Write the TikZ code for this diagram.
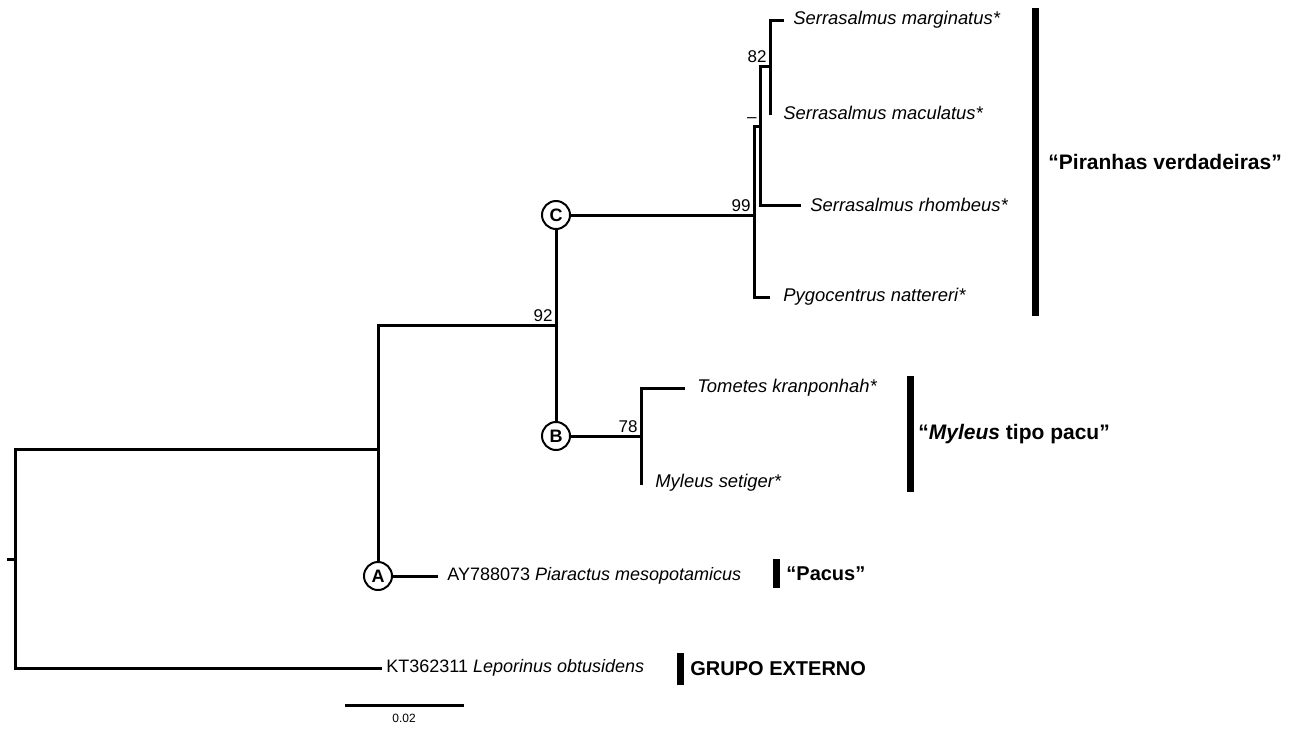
\documentclass[tikz,border=0pt]{standalone}
\usepackage{fontspec}
\setmainfont{Liberation Sans}
\usetikzlibrary{positioning}

\begin{document}
\begin{tikzpicture}[x=0.5pt, y=-0.5pt]

\tikzset{branch/.style = {line width=1.5pt, line cap=rect}}
\tikzset{cladenode/.style = {shape=circle, draw, line width=1pt, fill=white, minimum size=14pt, inner sep=0pt, font=\fontsize{9}{9}\selectfont\bfseries}}
\tikzset{taxon/.style = {inner sep=0pt, anchor=west, font=\fontsize{9.2}{11}\selectfont\itshape}}
\tikzset{support/.style = {inner sep=1.5pt, font=\fontsize{8.5}{9}\selectfont}}
\tikzset{cladebar/.style = {line width=3.5pt}}
\tikzset{cladename/.style = {inner sep=0pt, anchor=west, font=\fontsize{10.5}{12}\selectfont\bfseries}}

\useasboundingbox (0,0) rectangle (1289,728);

%internal nodes
\coordinate (stub) at (8,559);
\coordinate (root) at (15,559);
\coordinate (nIn) at (378,449);
\coordinate (n92) at (556,325);
\coordinate (n99) at (754,215);
\coordinate (nDash) at (760,126);
\coordinate (n82) at (770,66);
\coordinate (n78) at (641,436);
\node[cladenode] (A) at (378,576) {A};
\node[cladenode] (B) at (556,436) {B};
\node[cladenode] (C) at (556,215) {C};

%tips
\coordinate (tipMar) at (782,20);
\coordinate (tipMac) at (770,113);
\coordinate (tipRho) at (799,205);
\coordinate (tipPyg) at (768,297);
\coordinate (tipTom) at (683,388);
\coordinate (tipMyl) at (641,483);
\coordinate (tipPia) at (436,576);
\coordinate (tipLep) at (380,668);

%branches
\draw[branch] (stub) -- (root);
\draw[branch] (nIn) -| (root) |- (tipLep);
\draw[branch] (n92) -| (A);
\draw[branch] (A) -- (tipPia);
\draw[branch] (C) -- (B);
\draw[branch] (C) -- (n99);
\draw[branch] (nDash) -| (n99) |- (tipPyg);
\draw[branch] (n82) -| (nDash) |- (tipRho);
\draw[branch] (tipMar) -| (n82) -- (tipMac);
\draw[branch] (B) -- (n78);
\draw[branch] (tipTom) -| (n78) -- (tipMyl);

%support values
\node[support, anchor=south east] at (n92) {92};
\node[support, anchor=south east] at (n99) {99};
\node[support, anchor=south east] at (n82) {82};
\node[support, anchor=south east] at (nDash) {--};
\node[support, anchor=south east] at (n78) {78};

%taxa
\node[taxon, right=5.5pt of tipMar] (mar) {Serrasalmus marginatus*};
\node[taxon, right=6.5pt of tipMac] (mac) {Serrasalmus maculatus*};
\node[taxon, right=5.5pt of tipRho] (rho) {Serrasalmus rhombeus*};
\node[taxon, right=7.5pt of tipPyg] (pyg) {Pygocentrus nattereri*};
\node[taxon, right=7pt of tipTom] (tom) {Tometes kranponhah*};
\node[taxon, right=7pt of tipMyl] (myl) {Myleus setiger*};
\node[taxon, right=5.5pt of tipPia, font=\fontsize{9}{11}\selectfont] (pia) {AY788073 \textit{Piaractus mesopotamicus}};
\node[taxon, right=3pt of tipLep, font=\fontsize{9}{11}\selectfont] (lep) {KT362311 \textit{Leporinus obtusidens}};

%clade bars
\coordinate (pirTop) at (1035,8);
\coordinate (pirBot) at (1035,316);
\coordinate (mylTop) at (910,376);
\coordinate (mylBot) at (910,492);
\coordinate (pacTop) at (776,559);
\coordinate (pacBot) at (776,588);
\coordinate (extTop) at (680,653);
\coordinate (extBot) at (680,685);
\draw[cladebar] (pirTop) -- (pirBot) coordinate[midway] (pirMid);
\draw[cladebar] (mylTop) -- (mylBot) coordinate[midway] (mylMid);
\draw[cladebar] (pacTop) -- (pacBot) coordinate[midway] (pacMid);
\draw[cladebar] (extTop) -- (extBot) coordinate[midway] (extMid);
\node[cladename, right=6.5pt of pirMid] (pir) {``Piranhas verdadeiras''};
\node[cladename, right=4pt of mylMid] (myleus) {``\textit{Myleus} tipo pacu''};
\node[cladename, right=5pt of pacMid, font=\fontsize{10}{12}\selectfont\bfseries] (pac) {``Pacus''};
\node[cladename, right=5pt of extMid, font=\fontsize{10}{12}\selectfont\bfseries] (ext) {GRUPO EXTERNO};

%scale
\coordinate (scaleL) at (346,705);
\coordinate (scaleR) at (462,705);
\draw[branch] (scaleL) -- (scaleR) node[midway, below=4pt, inner sep=0pt, font=\fontsize{6}{7}\selectfont] (scaletxt) {0.02};

\end{tikzpicture}
\end{document}
